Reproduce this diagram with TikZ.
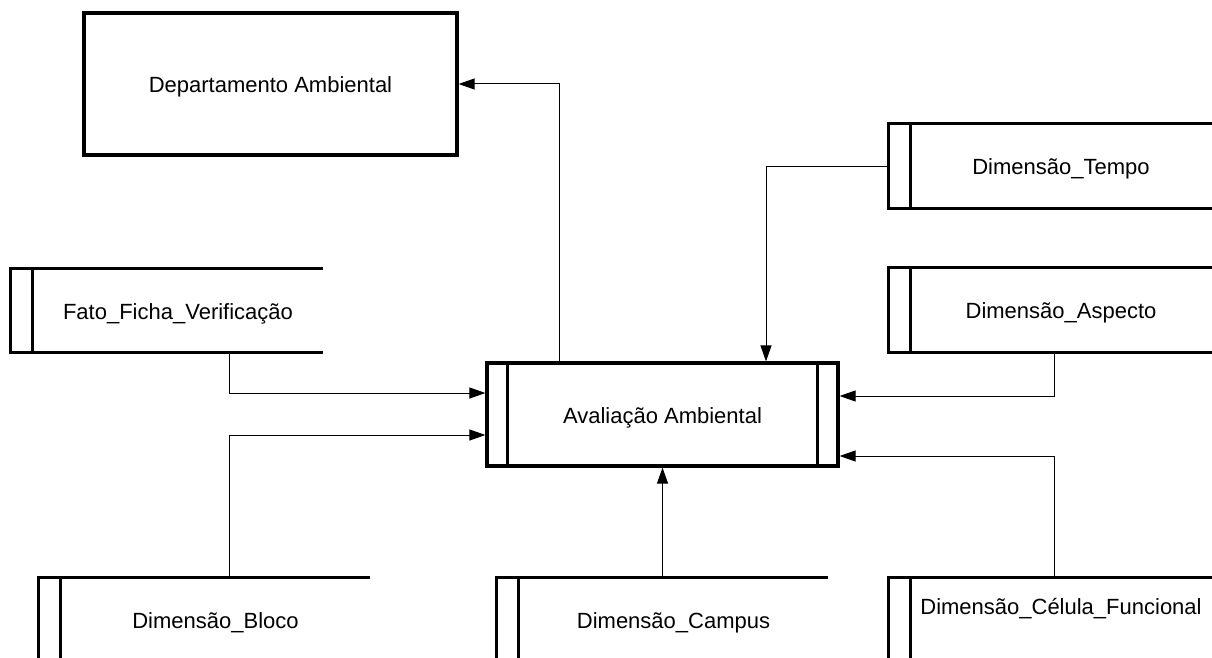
\documentclass[tikz,border=0pt]{standalone}
\usepackage{fontspec}
\setmainfont{Liberation Sans}
\usetikzlibrary{arrows.meta}

% Open-ended data store: double bar on the left, top and bottom lines
% running out to the right (#2 = extra length past the node's east side)
\newcommand\dstore[2]{%
  \draw[frame] ([xshift=#2]#1.north east) -- ([xshift=-22pt]#1.north west)
    -- ([xshift=-22pt]#1.south west) -- ([xshift=#2]#1.south east);
  \draw[frame] (#1.north west) -- (#1.south west);
}

\begin{document}
\begin{tikzpicture}[x=1pt,y=-1pt,
  frame/.style={line width=3.2pt,line join=miter},
  conn/.style={line width=1pt,-{Triangle[length=16pt,width=11pt]}},
  lbl/.style={font=\fontsize{22pt}{26pt}\selectfont,inner sep=0pt,
    text height=17pt,text depth=0pt},
  dimbox/.style={lbl,minimum width=#1,minimum height=84pt},
  dimbox/.default=300pt,
  entity/.style={lbl,draw,line width=3.2pt,minimum width=373pt,minimum height=142pt},
  process/.style={lbl,draw,line width=3.2pt,minimum width=351pt,minimum height=103pt}]

\useasboundingbox (0,0) rectangle (1212,658);
\clip (0,0) rectangle (1212,658);

% External entity
\node[entity] (dep) at (270.5,84) {Departamento Ambiental};

% Central process with bars on both sides
\node[process] (aval) at (662.5,414.5) {Avaliação Ambiental};
\draw[frame] ([xshift=22pt]aval.north west) -- ([xshift=22pt]aval.south west);
\draw[frame] ([xshift=-22pt]aval.north east) -- ([xshift=-22pt]aval.south east);

% Data stores
\node[dimbox=290pt,minimum height=83pt] (fato) at (178,310.5) {Fato\_Ficha\_Verificação};
\dstore{fato}{0pt}

\node[dimbox] (tempo) at (1061,166) {Dimensão\_Tempo};
\dstore{tempo}{10pt}

\node[dimbox] (aspecto) at (1061,310) {Dimensão\_Aspecto};
\dstore{aspecto}{10pt}

\node[dimbox=309pt] (bloco) at (215.5,620) {Dimensão\_Bloco};
\dstore{bloco}{0pt}

\node[dimbox=309pt] (campus) at (673.5,620) {Dimensão\_Campus};
\dstore{campus}{0pt}

\node[dimbox] (celula) at (1061,620) {};
\dstore{celula}{10pt}
\node[lbl] (celulaTxt) at (1061,606) {Dimensão\_Célula\_Funcional};

% Flows
\draw[conn] ([xshift=-103.5pt]aval.north) |- (dep.east);
\draw[conn] ([xshift=-22pt]tempo.west) -| ([xshift=103.5pt]aval.north);
\draw[conn] ([xshift=51pt]fato.south) |- ([yshift=21.5pt]aval.west);
\draw[conn] ([xshift=13.5pt]bloco.north) |- ([yshift=-20.5pt]aval.west);
\draw[conn] ([xshift=-7pt]aspecto.south) |- ([yshift=18.5pt]aval.east);
\draw[conn] ([xshift=-7pt]celula.north) |- ([yshift=-41.5pt]aval.east);
\draw[conn] (campus.north -| aval.south) -- (aval.south);

\end{tikzpicture}
\end{document}
